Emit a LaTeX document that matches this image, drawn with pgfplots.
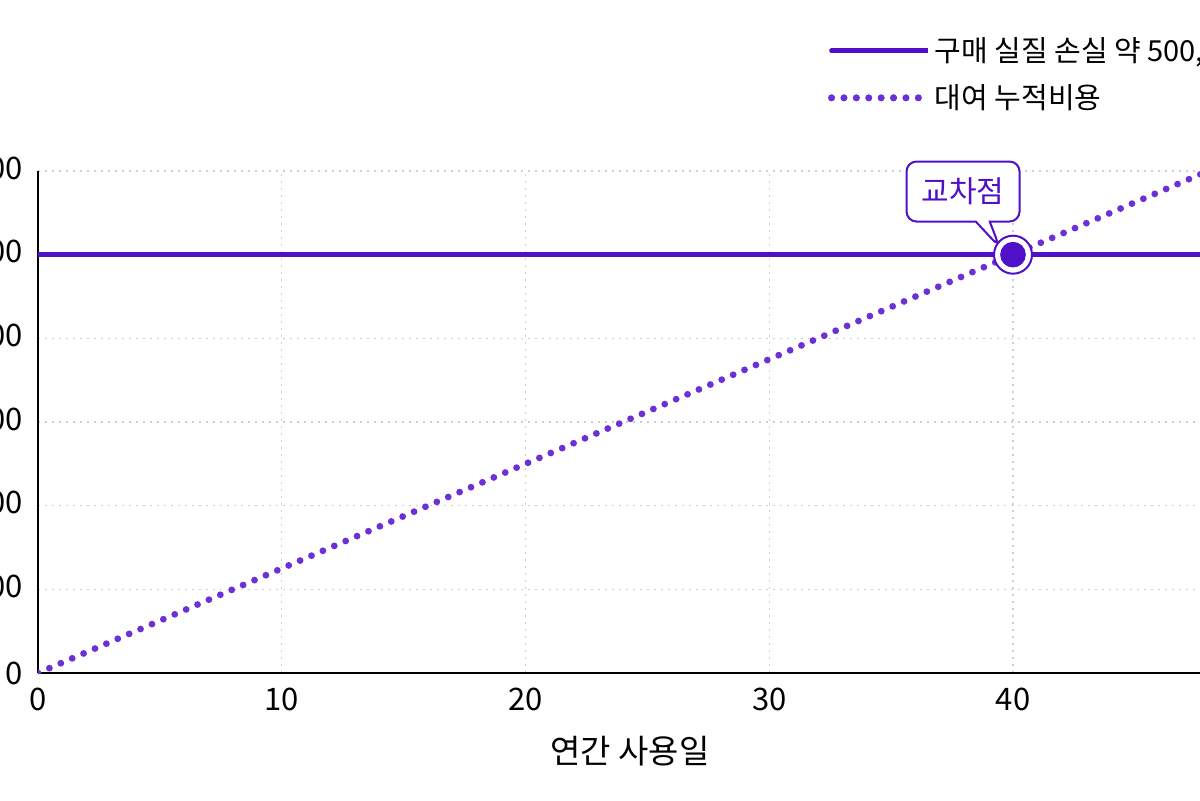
\documentclass[border=0pt]{standalone}
\usepackage{fontspec}
\setmainfont{Noto Sans CJK KR}
\usepackage{pgfplots}
\pgfplotsset{compat=1.18}
\usetikzlibrary{shapes.callouts}
\definecolor{buyline}{HTML}{5010C8}
\definecolor{rentline}{HTML}{6C30D7}
\definecolor{gridgray}{HTML}{CFCFCF}

\begin{document}
\begin{tikzpicture}
% the reference is a crop of a wider chart
\useasboundingbox (-19pt,-63.5pt) rectangle (581pt,336.5pt);
\begin{axis}[
    at={(0pt,0pt)}, anchor=south west,
    width=585pt, height=251pt, scale only axis,
    xmin=0, xmax=48, ymin=0, ymax=600000,
    clip mode=individual,
    axis x line=bottom, axis y line=left,
    axis line style={-, line width=1pt, black},
    xtick={0,10,20,30,40},
    xticklabels={0,10,20,30,40},
    ytick={0,100000,200000,300000,400000,500000,600000},
    yticklabels={0,{100,000},{200,000},{300,000},{400,000},{500,000},{600,000}},
    scaled y ticks=false,
    major tick length=0pt,
    grid=major,
    major grid style={gridgray, line width=0.6pt, dash pattern=on 1.2pt off 2.3pt},
    ticklabel style={font=\fontsize{15.5}{18}\selectfont},
    xticklabel style={yshift=-4pt},
    yticklabel style={xshift=-4pt},
    xlabel={연간 사용일},
    xlabel style={at={(axis description cs:0.5,0)}, anchor=center, yshift=-39pt, xshift=3.5pt, font=\fontsize{16.5}{19}\selectfont},
    legend style={at={(axis description cs:0.675,1.275)}, anchor=north west, draw=none, fill=none,
        inner sep=0pt, row sep=6pt, font=\fontsize{14.5}{17}\selectfont},
    legend cell align=left,
    legend image code/.code={\path (0pt,0pt) -- (48pt,0pt);
        \draw[#1, line cap=round] (0pt,0pt) -- (43.5pt,0pt);},
]
\addplot[buyline, line width=2.4pt] coordinates {(0,500000) (48,500000)};
\addlegendentry{구매 실질 손실 약 500,000원}
\addplot[rentline, line width=3.4pt, line cap=round, dash pattern=on 0pt off 6.2pt] coordinates {(0,0) (48,600000)};
\addlegendentry{대여 누적비용}
\node[rectangle callout, draw=buyline, line width=1pt, fill=white, rounded corners=5pt,
      text=buyline, font=\fontsize{15}{17}\selectfont, minimum width=56.5pt, minimum height=30pt,
      inner sep=0pt, callout absolute pointer={(axis cs:39.45,509000)}, callout pointer width=7pt]
      at (axis cs:37.95,575500) {교차점};
\addplot[only marks, mark=*, mark size=9.5pt, mark options={fill=white, draw=buyline, line width=1pt}, forget plot] coordinates {(40,500000)};
\addplot[only marks, mark=*, mark size=6.2pt, mark options={fill=buyline, draw=buyline}, forget plot] coordinates {(40,500000)};
\end{axis}
\end{tikzpicture}
\end{document}
